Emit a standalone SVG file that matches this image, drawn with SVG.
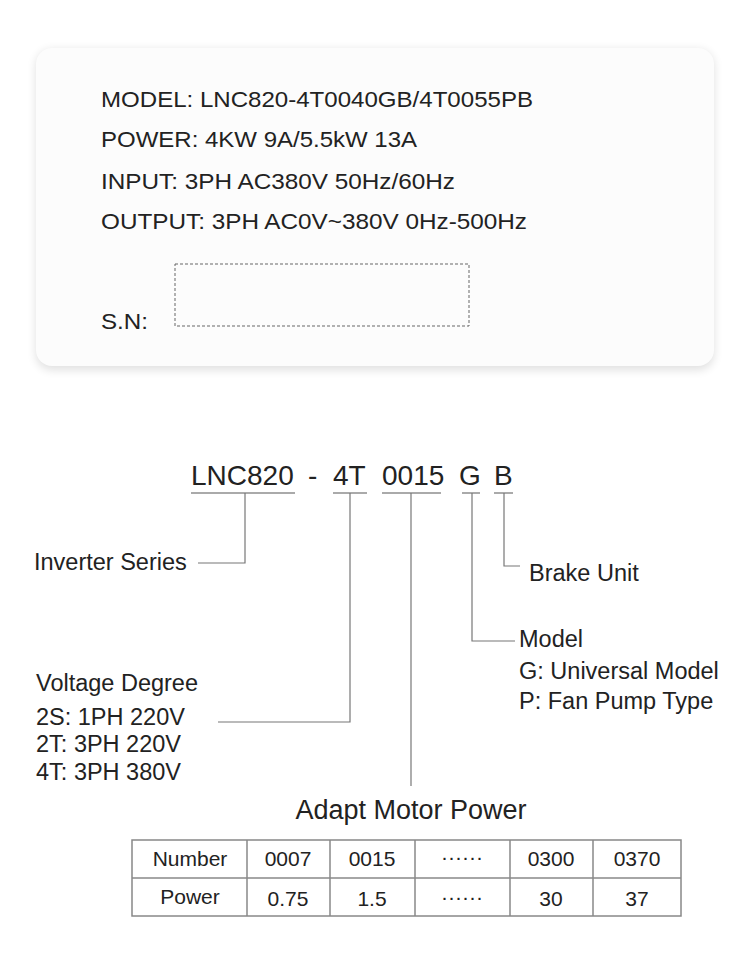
<svg xmlns="http://www.w3.org/2000/svg" width="750" height="967" viewBox="0 0 750 967">
<defs>
<filter id="sh" x="-10%" y="-10%" width="120%" height="120%"><feGaussianBlur stdDeviation="5"/></filter>
<style>
text{font-family:"Liberation Sans",Arial,sans-serif;fill:#222}
.c{font-size:22.5px}
.l{font-size:23.5px}
.code{font-size:28px}
.t{font-size:21px;text-anchor:middle}
.ln{stroke:#777;stroke-width:1.2;fill:none}
.ul{stroke:#aaa;stroke-width:2}
.tb{stroke:#888;stroke-width:1.5;fill:none}
</style>
</defs>
<rect width="750" height="967" fill="#fff"/>
<g id="card">
<rect x="36" y="50" width="678" height="320" rx="16" fill="#000" opacity="0.12" filter="url(#sh)"/>
<rect x="36" y="48" width="678" height="318" rx="16" fill="#fcfcfc"/>
<text class="c" x="101" y="107" textLength="432" lengthAdjust="spacingAndGlyphs">MODEL: LNC820-4T0040GB/4T0055PB</text>
<text class="c" x="101" y="147" textLength="316" lengthAdjust="spacingAndGlyphs">POWER: 4KW 9A/5.5kW 13A</text>
<text class="c" x="101" y="189" textLength="354" lengthAdjust="spacingAndGlyphs">INPUT: 3PH AC380V 50Hz/60Hz</text>
<text class="c" x="101" y="229" textLength="426" lengthAdjust="spacingAndGlyphs">OUTPUT: 3PH AC0V~380V 0Hz-500Hz</text>
<text class="c" x="101" y="329" textLength="47" lengthAdjust="spacingAndGlyphs">S.N:</text>
<rect x="175" y="264" width="294" height="62" fill="none" stroke="#666" stroke-width="1" stroke-dasharray="3,2"/>
</g>
<g id="code">
<text class="code" x="191" y="485">LNC820</text>
<text class="code" x="308" y="485">-</text>
<text class="code" x="333" y="485">4T</text>
<text class="code" x="382" y="485">0015</text>
<text class="code" x="459" y="485">G</text>
<text class="code" x="494" y="485">B</text>
<line class="ul" x1="191" y1="493" x2="295" y2="493"/>
<line class="ul" x1="333" y1="493" x2="367" y2="493"/>
<line class="ul" x1="382" y1="493" x2="441" y2="493"/>
<line class="ul" x1="462" y1="493" x2="480" y2="493"/>
<line class="ul" x1="494" y1="493" x2="513" y2="493"/>
</g>
<g id="connectors">
<polyline class="ln" points="245,493 245,563 198,563"/>
<polyline class="ln" points="350,493 350,722 218,722"/>
<polyline class="ln" points="411,493 411,786"/>
<polyline class="ln" points="472,493 472,641 515,641"/>
<polyline class="ln" points="504,493 504,566 520,566"/>
</g>
<g id="labels">
<text class="l" x="34" y="570">Inverter Series</text>
<text class="l" x="529" y="581">Brake Unit</text>
<text class="l" x="519" y="647">Model</text>
<text class="l" x="519" y="679">G: Universal Model</text>
<text class="l" x="519" y="709">P: Fan Pump Type</text>
<text class="l" x="36" y="691">Voltage Degree</text>
<text class="l" x="36" y="725">2S: 1PH 220V</text>
<text class="l" x="36" y="752">2T: 3PH 220V</text>
<text class="l" x="36" y="780">4T: 3PH 380V</text>
</g>
<g id="table">
<text x="411" y="819" style="font-size:27px;text-anchor:middle">Adapt Motor Power</text>
<rect class="tb" x="132" y="840" width="549" height="76"/>
<line class="tb" x1="132" y1="878" x2="681" y2="878"/>
<line class="tb" x1="247" y1="840" x2="247" y2="916"/>
<line class="tb" x1="330" y1="840" x2="330" y2="916"/>
<line class="tb" x1="415" y1="840" x2="415" y2="916"/>
<line class="tb" x1="510" y1="840" x2="510" y2="916"/>
<line class="tb" x1="593" y1="840" x2="593" y2="916"/>
<text class="t" x="190" y="866">Number</text>
<text class="t" x="288" y="866">0007</text>
<text class="t" x="372" y="866">0015</text>
<text class="t" x="462" y="864">······</text>
<text class="t" x="551" y="866">0300</text>
<text class="t" x="637" y="866">0370</text>
<text class="t" x="190" y="904">Power</text>
<text class="t" x="288" y="906">0.75</text>
<text class="t" x="372" y="906">1.5</text>
<text class="t" x="462" y="904">······</text>
<text class="t" x="551" y="906">30</text>
<text class="t" x="637" y="906">37</text>
</g>
</svg>
